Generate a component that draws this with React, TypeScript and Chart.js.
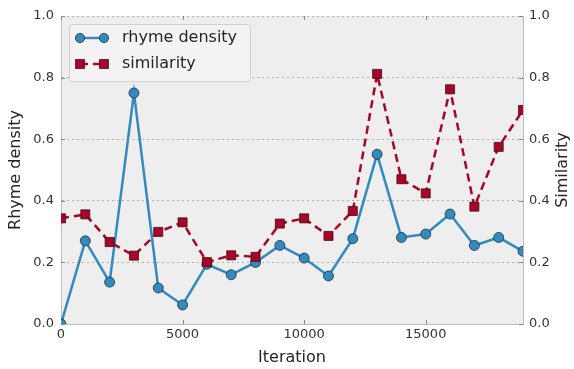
import React, { useEffect, useRef } from 'react';
import { Chart, registerables } from 'chart.js';

Chart.register(...registerables);

const iterations = [0, 1000, 2000, 3000, 4000, 5000, 6000, 7000, 8000, 9000, 10000, 11000, 12000, 13000, 14000, 15000, 16000, 17000, 18000, 19000];
const rhymeDensity = [0.0, 0.27, 0.136, 0.75, 0.117, 0.062, 0.194, 0.16, 0.2, 0.255, 0.214, 0.156, 0.277, 0.551, 0.281, 0.292, 0.357, 0.255, 0.281, 0.236];
const similarity = [0.343, 0.356, 0.266, 0.222, 0.299, 0.33, 0.201, 0.223, 0.218, 0.326, 0.343, 0.286, 0.367, 0.812, 0.47, 0.424, 0.762, 0.381, 0.575, 0.695];
const xTickValues = [0, 5000, 10000, 15000];
const yTickValues = [0, 0.2, 0.4, 0.6, 0.8, 1.0];
const seriesLabels = ['rhyme density', 'similarity'];
const xTitle = 'Iteration';
const yLeftTitle = 'Rhyme density';
const yRightTitle = 'Similarity';

const FONT = 'DejaVu Sans';
const BLUE = '#348ABD';
const RED = '#A60628';

const bgPlugin = {
  id: 'bgPlugin',
  beforeDraw(chart: any) {
    const { ctx, chartArea } = chart;
    ctx.save();
    ctx.fillStyle = '#eeeeee';
    ctx.fillRect(chartArea.left, chartArea.top, chartArea.right - chartArea.left, chartArea.bottom - chartArea.top);
    ctx.restore();
  },
};

const tickMarksPlugin = {
  id: 'tickMarks',
  afterDatasetsDraw(chart: any) {
    const { ctx, chartArea } = chart;
    const xs = chart.scales.x;
    const ys = chart.scales.y;
    ctx.save();
    ctx.strokeStyle = '#888888';
    ctx.lineWidth = 1;
    ctx.beginPath();
    xTickValues.forEach((v) => {
      const px = Math.round(xs.getPixelForValue(v)) + 0.5;
      ctx.moveTo(px, chartArea.top);
      ctx.lineTo(px, chartArea.top + 4);
      ctx.moveTo(px, chartArea.bottom);
      ctx.lineTo(px, chartArea.bottom - 4);
    });
    yTickValues.forEach((v) => {
      const py = Math.round(ys.getPixelForValue(v)) + 0.5;
      ctx.moveTo(chartArea.left, py);
      ctx.lineTo(chartArea.left + 4, py);
      ctx.moveTo(chartArea.right, py);
      ctx.lineTo(chartArea.right - 4, py);
    });
    ctx.stroke();
    ctx.restore();
  },
};

const rightTitlePlugin = {
  id: 'rightTitle',
  afterDraw(chart: any) {
    const { ctx, chartArea } = chart;
    ctx.save();
    ctx.translate(563, (chartArea.top + chartArea.bottom) / 2);
    ctx.rotate(-Math.PI / 2);
    ctx.fillStyle = '#262626';
    ctx.font = `16px "${FONT}"`;
    ctx.textAlign = 'center';
    ctx.textBaseline = 'middle';
    ctx.fillText(yRightTitle, 0, 0);
    ctx.restore();
  },
};

const legendPlugin = {
  id: 'customLegend',
  afterDraw(chart: any) {
    const { ctx } = chart;
    const bx = 69.5, by = 24.5, bw = 181, bh = 57, r = 3;
    ctx.save();
    ctx.beginPath();
    ctx.moveTo(bx + r, by);
    ctx.lineTo(bx + bw - r, by);
    ctx.quadraticCurveTo(bx + bw, by, bx + bw, by + r);
    ctx.lineTo(bx + bw, by + bh - r);
    ctx.quadraticCurveTo(bx + bw, by + bh, bx + bw - r, by + bh);
    ctx.lineTo(bx + r, by + bh);
    ctx.quadraticCurveTo(bx, by + bh, bx, by + bh - r);
    ctx.lineTo(bx, by + r);
    ctx.quadraticCurveTo(bx, by, bx + r, by);
    ctx.closePath();
    ctx.fillStyle = '#f3f3f3';
    ctx.fill();
    ctx.strokeStyle = '#d0d0d0';
    ctx.lineWidth = 1;
    ctx.stroke();

    chart.data.datasets.slice().sort((a: any, b: any) => a.legendIndex - b.legendIndex).forEach((ds: any, i: number) => {
      const y = 38 + i * 26;
      const x1 = 80, x2 = 104;
      ctx.strokeStyle = ds.borderColor;
      ctx.lineWidth = ds.borderWidth;
      ctx.setLineDash(ds.borderDash || []);
      ctx.beginPath();
      ctx.moveTo(x1, y);
      ctx.lineTo(x2, y);
      ctx.stroke();
      ctx.setLineDash([]);
      [x1, x2].forEach((mx) => {
        ctx.beginPath();
        if (ds.pointStyle === 'rect') {
          const s = ds.pointRadius * Math.SQRT1_2;
          ctx.rect(mx - s, y - s, 2 * s, 2 * s);
        } else {
          ctx.arc(mx, y, 4.6, 0, Math.PI * 2);
        }
        ctx.fillStyle = ds.pointBackgroundColor;
        ctx.fill();
        ctx.strokeStyle = ds.pointBorderColor;
        ctx.lineWidth = 1;
        ctx.stroke();
      });
      ctx.fillStyle = '#262626';
      ctx.font = `16px "${FONT}"`;
      ctx.textBaseline = 'middle';
      ctx.textAlign = 'left';
      ctx.fillText(ds.label, 122, y);
    });
    ctx.restore();
  },
};

export default function App() {
  const canvasRef = useRef<HTMLCanvasElement | null>(null);

  useEffect(() => {
    if (!canvasRef.current) return;
    Chart.defaults.font.family = FONT;
    const tickFont = { family: FONT, size: 13 };
    const titleFont = { family: FONT, size: 16 };
    const chart = new Chart(canvasRef.current, {
      type: 'line',
      data: {
        datasets: [
          {
            label: seriesLabels[0],
            legendIndex: 0,
            data: iterations.map((x, i) => ({ x, y: rhymeDensity[i] })),
            yAxisID: 'y',
            borderColor: BLUE,
            backgroundColor: BLUE,
            borderWidth: 2.5,
            pointStyle: 'circle',
            pointRadius: 5,
            pointBackgroundColor: BLUE,
            pointBorderColor: 'rgba(20,40,60,0.75)',
            pointBorderWidth: 1,
            tension: 0,
            clip: 0,
            order: 1,
          } as any,
          {
            label: seriesLabels[1],
            legendIndex: 1,
            data: iterations.map((x, i) => ({ x, y: similarity[i] })),
            yAxisID: 'y1',
            borderColor: RED,
            backgroundColor: RED,
            borderWidth: 2.5,
            borderDash: [8, 5],
            pointStyle: 'rect',
            pointRadius: 6.4,
            pointBackgroundColor: RED,
            pointBorderColor: 'rgba(60,10,20,0.75)',
            pointBorderWidth: 1,
            tension: 0,
            clip: 0,
            order: 0,
          } as any,
        ],
      },
      options: {
        responsive: false,
        animation: false,
        layout: { padding: { top: 16, left: 0, right: 0, bottom: 0 } },
        plugins: {
          legend: { display: false },
          tooltip: { enabled: false },
        },
        scales: {
          x: {
            type: 'linear',
            min: 0,
            max: 19000,
            afterBuildTicks: (scale: any) => {
              scale.ticks = xTickValues.map((v) => ({ value: v }));
            },
            afterFit: (scale: any) => {
              scale.height = 45;
            },
            ticks: {
              font: tickFont,
              color: '#333333',
              padding: 3,
              maxRotation: 0,
              callback: (v: any) => String(v),
            },
            grid: { display: false, drawTicks: false },
            border: { display: true, color: '#bcbcbc', width: 1 },
            title: {
              display: true,
              text: xTitle,
              font: titleFont,
              color: '#262626',
              padding: { top: 0, bottom: 2 },
            },
          },
          y: {
            type: 'linear',
            position: 'left',
            min: 0,
            max: 1,
            afterBuildTicks: (scale: any) => {
              scale.ticks = yTickValues.map((v) => ({ value: v }));
            },
            afterFit: (scale: any) => {
              scale.width = 61;
            },
            ticks: {
              font: tickFont,
              color: '#333333',
              padding: 7,
              callback: (v: any) => Number(v).toFixed(1),
            },
            grid: { display: true, drawTicks: false, color: '#b0b0b0', lineWidth: 1 },
            border: { display: true, color: '#bcbcbc', width: 1, dash: [2, 3] },
            title: {
              display: true,
              text: yLeftTitle,
              font: titleFont,
              color: '#262626',
              padding: { top: 6, bottom: 0 },
            },
          },
          y1: {
            type: 'linear',
            position: 'right',
            min: 0,
            max: 1,
            afterBuildTicks: (scale: any) => {
              scale.ticks = yTickValues.map((v) => ({ value: v }));
            },
            afterFit: (scale: any) => {
              scale.width = 51;
            },
            ticks: {
              font: tickFont,
              color: '#333333',
              padding: 6,
              callback: (v: any) => Number(v).toFixed(1),
            },
            grid: { display: false, drawTicks: false },
            border: { display: true, color: '#bcbcbc', width: 1 },
            title: { display: false },
          },
        },
      } as any,
      plugins: [bgPlugin, tickMarksPlugin, rightTitlePlugin, legendPlugin],
    });
    return () => chart.destroy();
  }, []);

  return (
    <div style={{ position: 'absolute', left: 0, top: 0, width: 574, height: 369, background: '#ffffff' }}>
      <canvas ref={canvasRef} width={574} height={369} style={{ display: 'block' }} />
    </div>
  );
}
